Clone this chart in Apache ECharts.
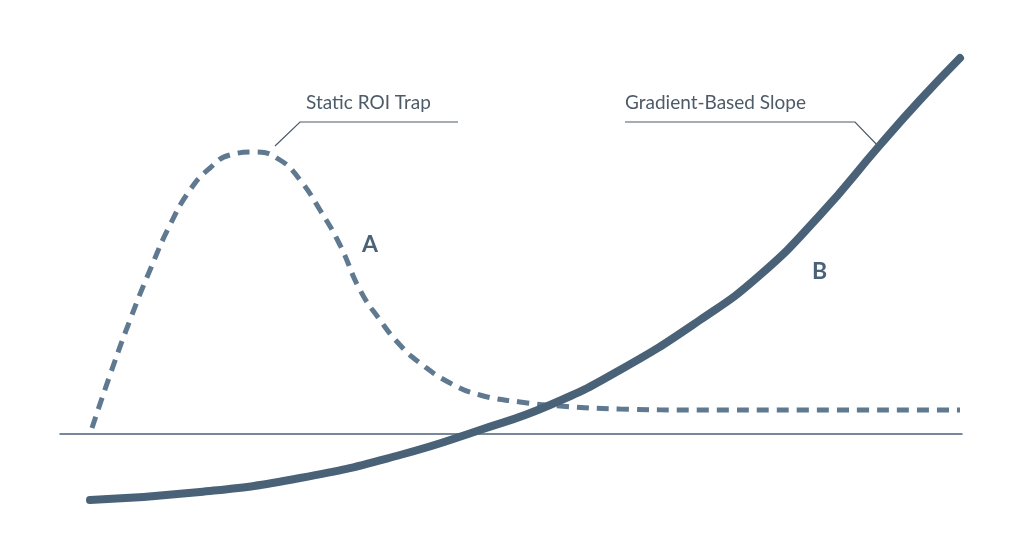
<!DOCTYPE html>
<html lang="en">
<head>
    <meta charset="UTF-8">
    <title>ROI trap vs gradient slope</title>
    <script src="https://cdn.jsdelivr.net/npm/echarts@6/dist/echarts.min.js"></script>
    <style>html,body{margin:0;background:#fff}</style>
</head>
<body>
<div id="main" style="width:1024px;height:559px;"></div>
<script type="text/javascript">
    // points: x from left of axis, y above the baseline
    var staticX = [32, 50, 70, 90, 110, 130, 150, 170, 195, 220, 240, 260, 280, 300, 320, 340, 360, 390, 420, 460, 500, 560, 640, 740, 900];
    var staticY = [6, 59, 114, 164, 209, 244, 266, 279, 282, 274, 254, 224, 189, 144, 114, 89, 71, 51, 39, 32, 28, 25, 24, 24, 24];
    var slopeX = [30, 140, 240, 340, 420, 490, 560, 640, 700, 760, 820, 860, 900];
    var slopeY = [-66, -58, -44, -21, 4, 29, 64, 114, 159, 219, 289, 334, 376];

    function pairs(xs, ys) {
        return xs.map(function (x, i) { return [x, ys[i]]; });
    }

    var myChart = echarts.init(document.getElementById('main'));
    var ink = '#4a6278';
    var textStyle = { fill: '#4d5b68', fontSize: 19, fontFamily: 'Lato' };

    option = {
        animation: false,
        grid: { left: 60, width: 902, top: 40, height: 480 },
        xAxis: {
            type: 'value', min: 0, max: 902,
            axisLine: { onZero: true, lineStyle: { color: ink, width: 1.5 } },
            axisTick: { show: false }, axisLabel: { show: false }, splitLine: { show: false }
        },
        yAxis: {
            type: 'value', min: -86, max: 394,
            axisLine: { show: false }, axisTick: { show: false },
            axisLabel: { show: false }, splitLine: { show: false }
        },
        series: [
            {
                name: 'A', type: 'line', smooth: 0.5, symbol: 'none',
                data: pairs(staticX, staticY),
                lineStyle: { color: '#5f7990', width: 5, type: [12, 8] }
            },
            {
                name: 'B', type: 'line', smooth: 0.5, symbol: 'none',
                data: pairs(slopeX, slopeY),
                lineStyle: { color: ink, width: 8, cap: 'round' }
            }
        ],
        graphic: [
            { type: 'text', left: 306, top: 93, style: Object.assign({ text: 'Static ROI Trap' }, textStyle) },
            { type: 'polyline', shape: { points: [[275, 146], [300, 122], [458, 122]] }, style: { stroke: '#4d5b68', lineWidth: 1.2, fill: null } },
            { type: 'text', left: 625, top: 93, style: Object.assign({ text: 'Gradient-Based Slope' }, textStyle) },
            { type: 'polyline', shape: { points: [[625, 122], [855, 122], [880, 148]] }, style: { stroke: '#4d5b68', lineWidth: 1.2, fill: null } },
            { type: 'text', left: 362, top: 233, style: { text: 'A', fill: ink, fontSize: 23, fontWeight: 'bold', fontFamily: 'Lato' } },
            { type: 'text', left: 812, top: 260, style: { text: 'B', fill: ink, fontSize: 23, fontWeight: 'bold', fontFamily: 'Lato' } }
        ]
    };
    myChart.setOption(option);
</script>
</body>
</html>
